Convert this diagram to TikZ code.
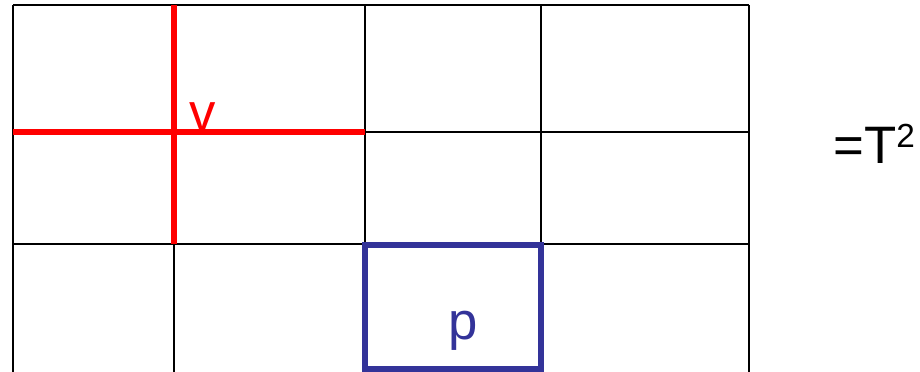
\documentclass[tikz,border=0pt]{standalone}
\usepackage{fontspec}
\setmainfont{Liberation Sans}
\usetikzlibrary{positioning}
\definecolor{linkred}{RGB}{255,0,0}
\definecolor{plaqblue}{RGB}{51,51,153}
\tikzset{
  gridline/.style={draw=black,line width=1pt},
  link/.style={draw=linkred,line width=3.6pt},
  plaq/.style={draw=plaqblue,line width=3.1pt},
  lbl/.style={font=\fontsize{30}{36}\selectfont,inner sep=0pt,anchor=base},
}

\begin{document}
\begin{tikzpicture}[x=0.02cm,y=-0.02cm]
  \useasboundingbox (0,0) rectangle (920,372);
  \clip (0,0) rectangle (920,372);
  % lattice
  \foreach \x in {13,365,541,749} \draw[gridline] (\x,5) -- (\x,380);
  \draw[gridline] (174,244) -- (174,380);
  \draw[gridline] (13,5) -- (749,5);
  \draw[gridline] (365,132) -- (749,132);
  \draw[gridline] (13,244) -- (749,244);
  % links at the vertex
  \draw[link] (174,5) -- (174,244);
  \draw[link] (13,132) -- (365,132);
  \node[lbl,text=linkred] (vert) at (203,130) {v};
  % plaquette
  \draw[plaq] (365,245) rectangle (541,369);
  \node[lbl,text=plaqblue] (plaqp) at (463,339) {p};
  \node[lbl,anchor=base west] (torus) at (833,163)
    {=T\raisebox{9pt}{\fontsize{19}{20}\selectfont 2}};
\end{tikzpicture}
\end{document}
